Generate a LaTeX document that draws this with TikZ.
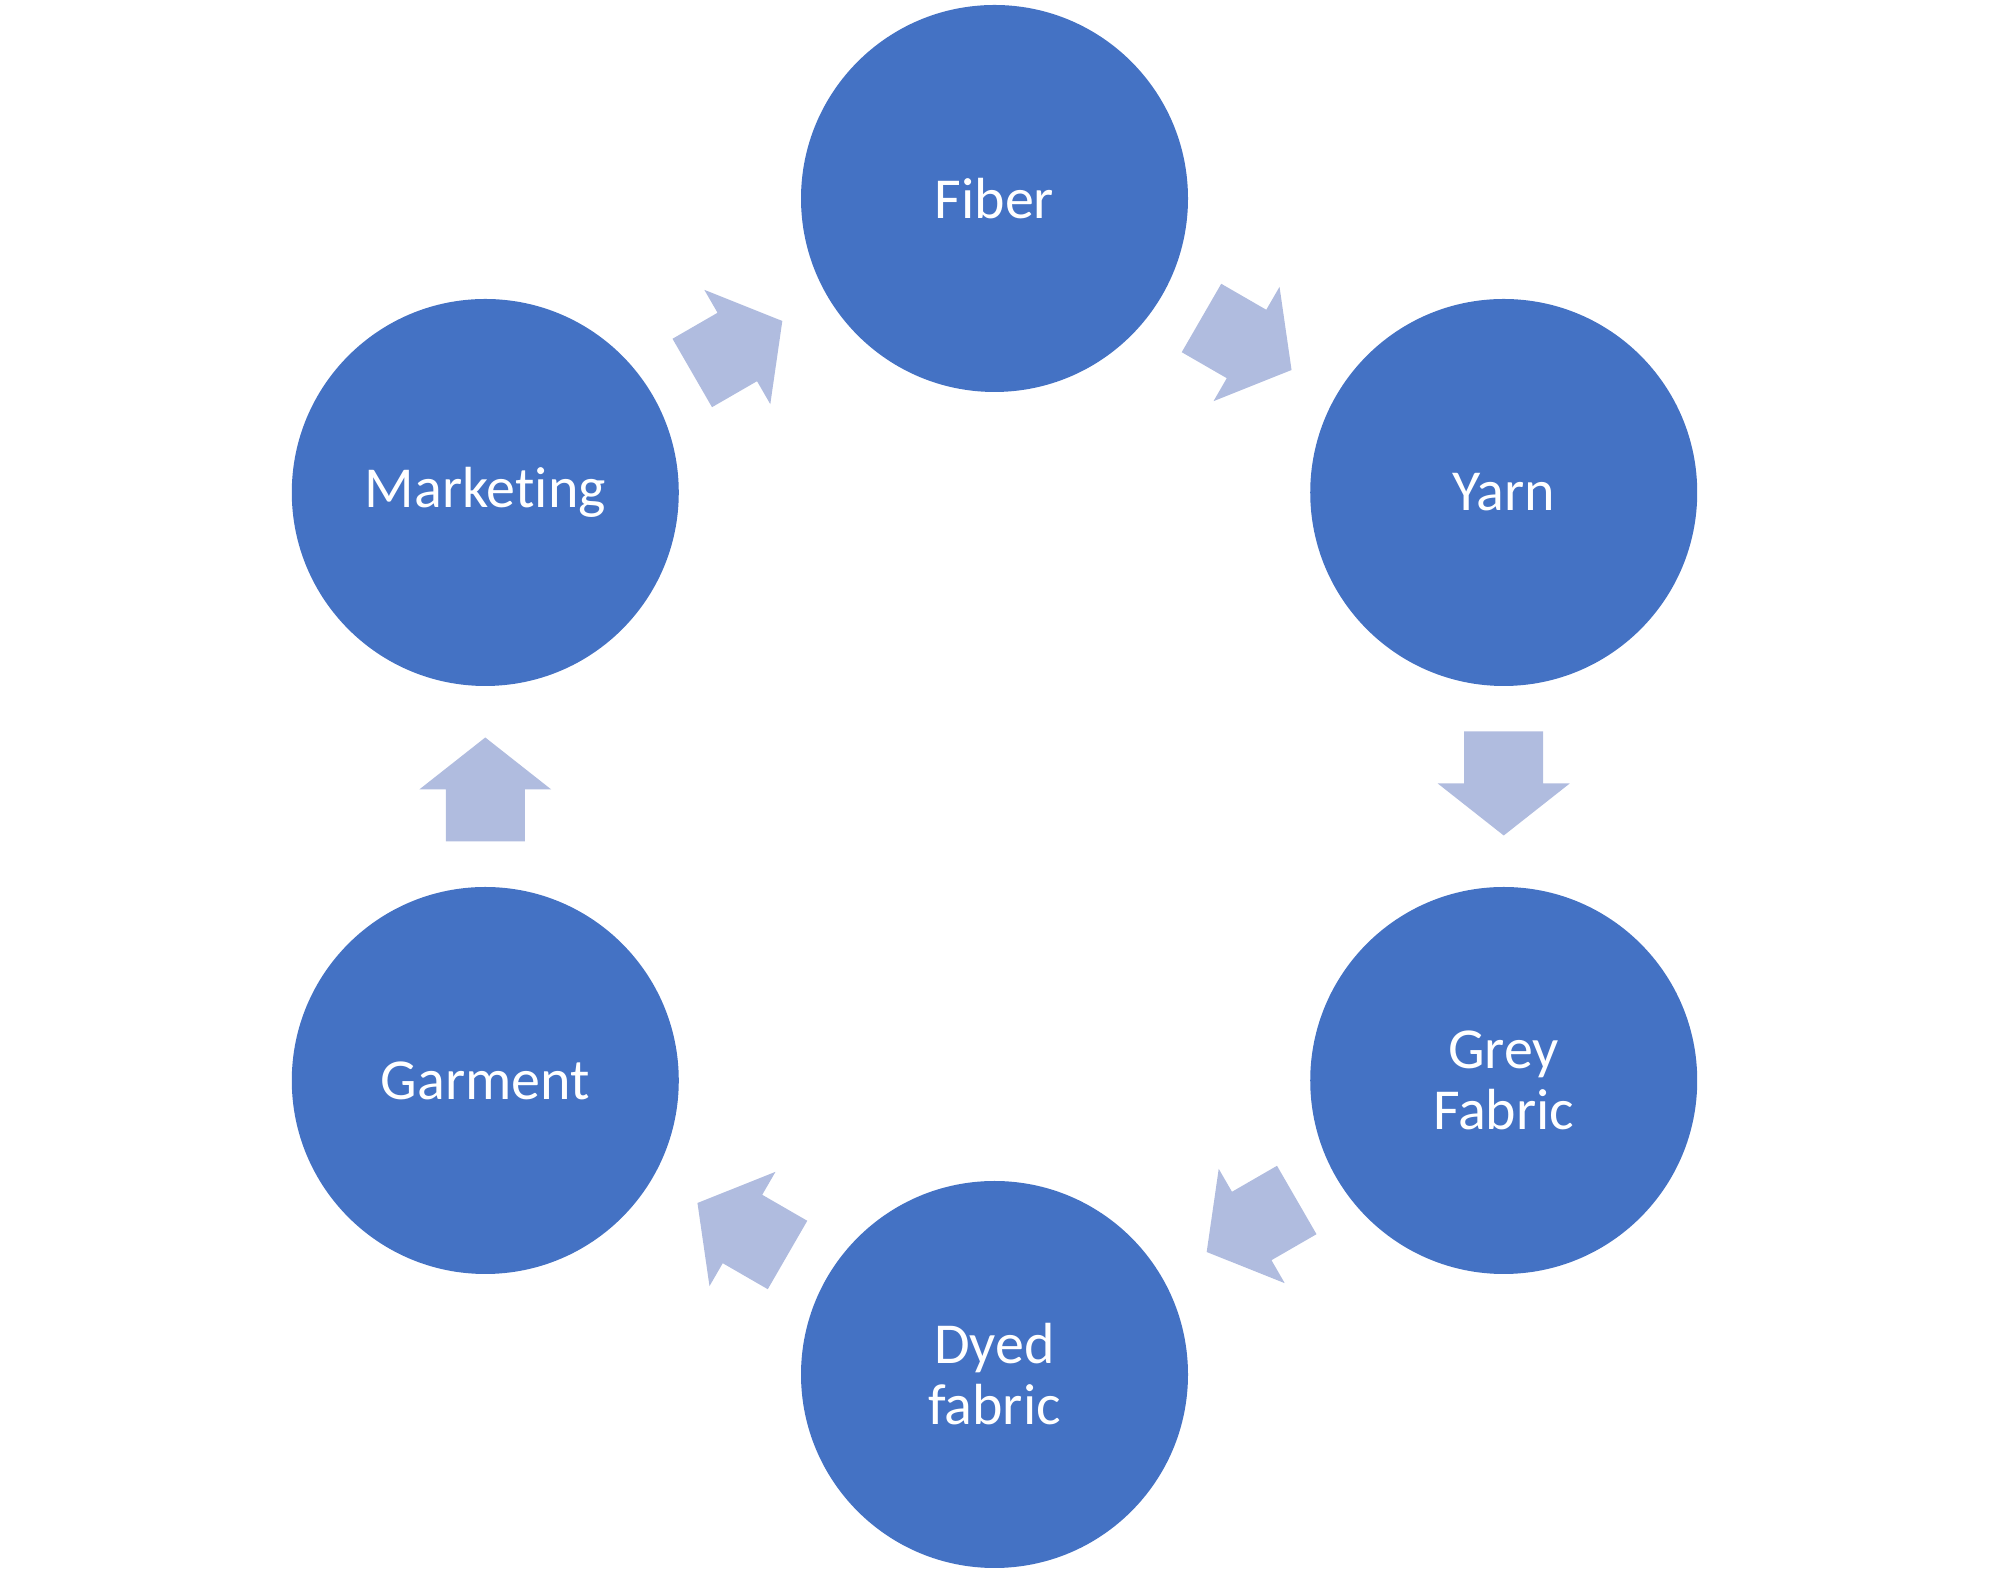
\documentclass[tikz,border=0pt]{standalone}
\usepackage{fontspec}
\setmainfont{Carlito}[Ligatures={NoCommon,NoContextual}]
\usetikzlibrary{calc}
\definecolor{circblue}{HTML}{4472C4}
\definecolor{arrowblue}{HTML}{B0BCDF}
\begin{document}
\begin{tikzpicture}[x=1pt,y=1pt,
  stage/.style={circle, fill=circblue, minimum size=387pt, inner sep=0pt,
    text=white, font=\fontsize{58}{61}\selectfont, align=center},
  blockarrow/.pic={\fill[arrowblue] (-55,-39.5) -- (-3,-39.5) -- (-3,-66) -- (49,0)
    -- (-3,66) -- (-3,39.5) -- (-55,39.5) -- cycle;}]
\useasboundingbox (0,0) rectangle (1991,1573);
\coordinate (c) at (994.5,786.5);
\node[stage] (fiber)    at ($(c)+(90:588)$)  {Fiber};
\node[stage] (yarn)     at ($(c)+(30:588)$)  {Yarn};
\node[stage] (grey)     at ($(c)+(-30:588)$) {Grey\\Fabric};
\node[stage] (dyed)     at ($(c)+(-90:588)$) {Dyed\\fabric};
\node[stage] (garment)  at ($(c)+(-150:588)$) {Garment};
\node[stage] (marketing) at ($(c)+(150:588)$) {Marketing};
\pic[rotate=-30]  at ($(fiber)!0.5!(yarn)$)       {blockarrow};
\pic[rotate=-90]  at ($(yarn)!0.5!(grey)$)        {blockarrow};
\pic[rotate=-150] at ($(grey)!0.5!(dyed)$)        {blockarrow};
\pic[rotate=150]  at ($(dyed)!0.5!(garment)$)     {blockarrow};
\pic[rotate=90]   at ($(garment)!0.5!(marketing)$) {blockarrow};
\pic[rotate=30]   at ($(marketing)!0.5!(fiber)$)  {blockarrow};
\end{tikzpicture}
\end{document}
